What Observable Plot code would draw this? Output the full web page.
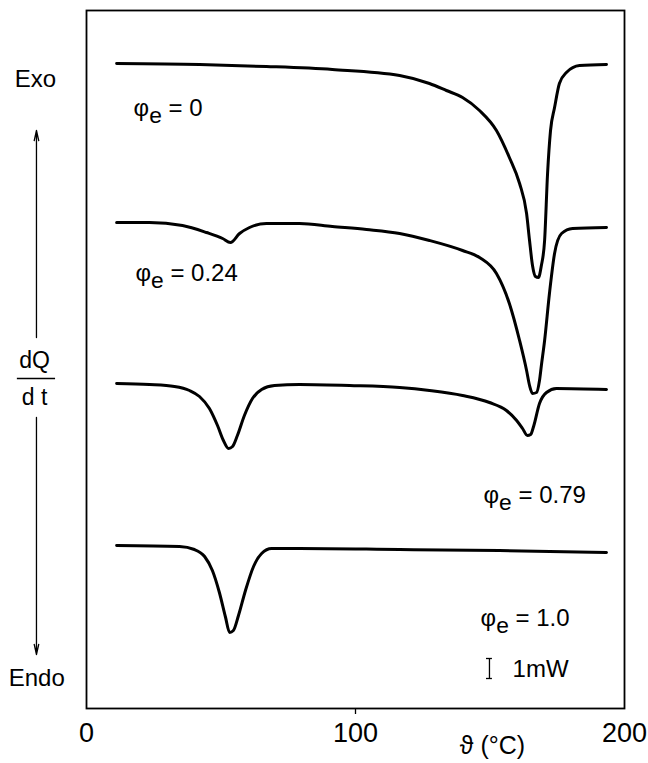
<!DOCTYPE html>
<html><head><meta charset="utf-8">
<script src="https://cdn.jsdelivr.net/npm/d3@7"></script>
<script src="https://cdn.jsdelivr.net/npm/@observablehq/plot@0.6"></script>
<style>
body{margin:0;background:#fff}
#chart svg{font-family:"Liberation Sans","DejaVu Sans",sans-serif}
</style>
</head><body><div id="chart"></div>
<script>
// Temperature (°C) and heat flow (mW, curves offset vertically)
const T_e0   = [11.2,42.0,66.9,91.4,116.4,127.5,133.8,139.8,146.1,152.4,157.2,161.0,163.6,164.7,165.8,166.9,168.0,169.1,170.3,171.4,172.5,174.0,175.8,178.4,183.3,193.3];
const Q_e0   = [32.25,32.2,32.1,31.95,31.65,31.25,30.9,30.55,29.9,28.9,27.55,26.25,24.75,23.4,22.15,21.6,21.55,22.15,23.4,26.75,28.9,30.05,31.25,31.8,32.15,32.2];
const T_e024 = [11.2,23.4,35.7,44.6,50.6,53.5,56.9,60.6,66.9,79.2,91.4,104.1,116.4,127.5,139.8,146.1,152.4,157.2,161.0,163.6,164.7,165.8,167.3,168.4,169.1,170.3,172.1,174.0,176.6,180.7,193.3];
const Q_e024 = [24.3,24.3,24.15,23.8,23.5,23.3,23.75,24.05,24.25,24.25,24.1,23.95,23.75,23.4,22.9,22.55,21.75,20.25,18.4,16.9,16.15,15.75,15.8,16.4,17.15,18.4,20.75,22.75,23.75,24.0,24.05];
const T_e079 = [11.2,23.4,32.7,38.3,42.0,45.7,48.7,50.9,52.8,54.3,56.1,58.7,61.7,65.1,69.9,79.2,97.8,116.4,127.5,139.8,149.8,156.1,159.9,162.1,163.9,165.1,166.2,168.4,171.0,174.7,193.3];
const Q_e079 = [16.25,16.2,16.1,15.9,15.6,15.0,14.15,13.4,13.0,13.1,13.65,14.65,15.5,15.95,16.15,16.2,16.15,16.05,15.9,15.65,15.3,14.9,14.4,14.0,13.65,13.7,14.1,15.25,15.8,16.0,15.95];
const T_e10  = [11.2,34.6,40.1,43.9,46.8,49.4,51.7,53.2,54.6,56.5,59.1,62.1,65.1,68.8,79.2,116.4,153.5,193.3];
const Q_e10  = [8.15,8.1,7.95,7.6,6.9,5.8,4.55,3.8,3.9,4.65,5.9,7.1,7.75,8.0,8.0,7.95,7.9,7.8];

const seriesNames = ["0","0.24","0.79","1.0"];
const seriesT = [T_e0, T_e024, T_e079, T_e10];
const seriesQ = [Q_e0, Q_e024, Q_e079, Q_e10];

// label anchor positions (°C, mW)
const labelT = [17.5, 18.2, 147.6, 146.5];
const labelQ = [30.0, 21.75, 10.65, 4.5];

const xTicks = [0, 100, 200];
const scaleBarT = 149.8, scaleBarQ = [1.5, 2.5];

const rows = seriesNames.flatMap((s, i) => seriesT[i].map((t, j) => ({series: s, T: t, Q: seriesQ[i][j]})));
const labels = seriesNames.map((s, i) => ({text: "φe = " + s, T: labelT[i], Q: labelQ[i]}));

const chart = Plot.plot({
  width: 648, height: 763,
  marginLeft: 86, marginRight: 24, marginTop: 10, marginBottom: 55,
  x: {domain: [0, 200], label: null},
  y: {domain: [0, 34.9], axis: null},
  marks: [
    Plot.frame({stroke: "black", strokeWidth: 1.8}),
    Plot.axisX({ticks: [100], tickSize: 6, tickFormat: () => "", strokeWidth: 1.3, label: null}),
    Plot.axisX({ticks: xTicks, tickSize: 0, tickPadding: 14, fontSize: 27, label: null}),
    Plot.line(rows, {x: "T", y: "Q", z: "series", stroke: "black", strokeWidth: 3, curve: "monotone-x"}),
    Plot.text(labels, {x: "T", y: "Q", text: "text", textAnchor: "start", fontSize: 24, fill: "black"}),
    Plot.text(["1mW"], {x: 158.4, y: 1.95, text: d => d, textAnchor: "start", fontSize: 24}),
    Plot.ruleX([scaleBarT], {y1: scaleBarQ[0], y2: scaleBarQ[1], strokeWidth: 1.3}),
    Plot.ruleY(scaleBarQ, {x1: scaleBarT - 1.1, x2: scaleBarT + 1.1, strokeWidth: 1.3}),
    Plot.text(["ϑ (°C)"], {x: 150.9, y: -1.85, text: d => d, fontSize: 25}),
    Plot.text(["Exo"], {x: -19, y: 31.45, text: d => d, fontSize: 24}),
    Plot.text(["Endo"], {x: -18.5, y: 1.5, text: d => d, fontSize: 24}),
    Plot.text(["dQ"], {x: -19.3, y: 17.4, text: d => d, fontSize: 23}),
    Plot.text(["d t"], {x: -19.3, y: 15.55, text: d => d, fontSize: 23}),
    Plot.ruleY([16.5], {x1: -25.7, x2: -11.5, strokeWidth: 1.5}),
    Plot.arrow([{a: 18.55, b: 28.9}, {a: 14.55, b: 2.7}], {x1: -18.6, x2: -18.6, y1: "a", y2: "b", strokeWidth: 1.3, headLength: 12, headAngle: 25})
  ]
});

// subscript "e" on phi labels
d3.select(chart).selectAll("text").each(function() {
  const t = this.textContent;
  if (t.startsWith("φe")) {
    const rest = t.slice(2);
    const sel = d3.select(this);
    sel.text(null);
    sel.append("tspan").text("φ");
    sel.append("tspan").attr("dy", "0.32em").attr("font-size", "0.95em").text("e");
    sel.append("tspan").attr("dy", "-0.32em").text(rest);
  }
});

document.getElementById("chart").append(chart);
</script>
</body></html>
